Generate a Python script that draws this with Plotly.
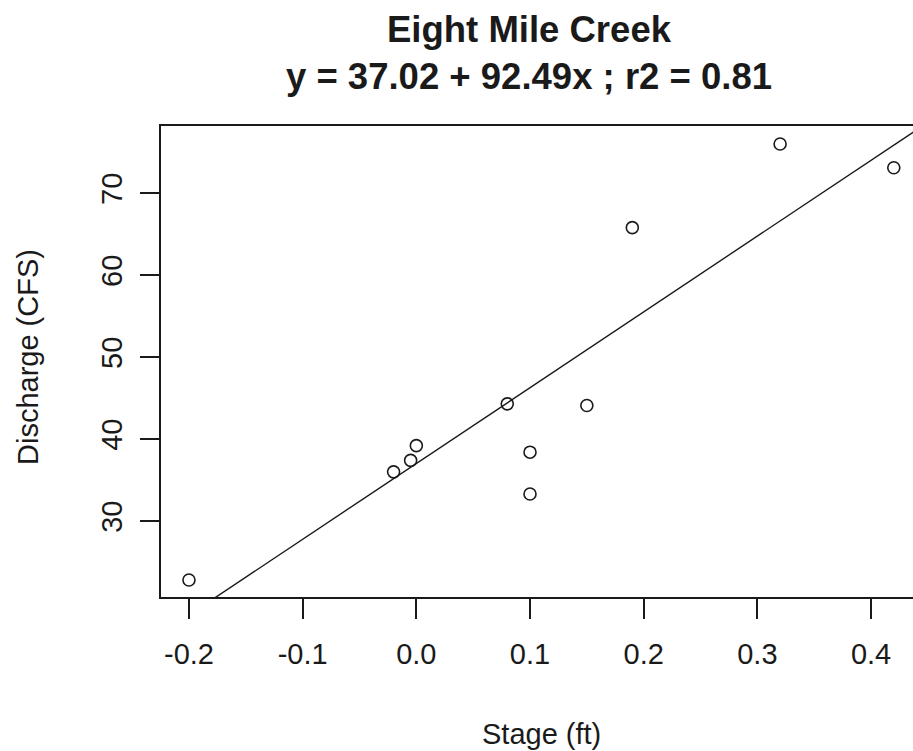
import plotly.graph_objects as go

# Data
stage_ft = [-0.20, -0.02, -0.005, 0.0, 0.08, 0.10, 0.10, 0.15, 0.19, 0.32, 0.42]
discharge_cfs = [22.8, 36.0, 37.4, 39.2, 44.3, 38.4, 33.3, 44.1, 65.8, 76.0, 73.1]

intercept = 37.02
slope = 92.49

x_tickvals = [-0.2, -0.1, 0.0, 0.1, 0.2, 0.3, 0.4]
x_ticktext = ["-0.2", "-0.1", "0.0", "0.1", "0.2", "0.3", "0.4"]
y_tickvals = [30, 40, 50, 60, 70]
y_ticktext = ["30", "40", "50", "60", "70"]

x_range = [-0.2246, 0.4369]
y_range = [20.73, 78.2]

line_x = [-0.3, 0.5]
line_y = [intercept + slope * v for v in line_x]

FONT = "Liberation Sans, Arial, sans-serif"
INK = "#1a1a1a"

fig = go.Figure()
fig.add_trace(go.Scatter(
    x=line_x, y=line_y, mode="lines",
    line=dict(color=INK, width=1.4),
    hoverinfo="skip", showlegend=False,
))
fig.add_trace(go.Scatter(
    x=stage_ft, y=discharge_cfs, mode="markers",
    marker=dict(symbol="circle-open", size=12, color=INK, line=dict(width=1.6, color=INK)),
    showlegend=False, cliponaxis=False,
))

W, H = 913, 751
L, R, T, B = 161, 0, 126, 154
pw = W - L - R
ph = H - T - B

def px_x(p):
    return (p - L) / pw

def px_y(q):
    return (H - B - q) / ph

fig.update_layout(
    width=W, height=H,
    margin=dict(l=L, r=R, t=T, b=B, pad=0),
    paper_bgcolor="white", plot_bgcolor="white",
    font=dict(family=FONT, color=INK),
    title=dict(
        text="<b>Eight Mile Creek</b><br><b>y = 37.02 + 92.49x ; r2 = 0.81</b>",
        font=dict(size=36.5, family=FONT, color=INK),
        x=529 / W, xref="container", xanchor="center",
        y=1 - 42 / H, yref="container", yanchor="top",
    ),
    xaxis=dict(
        range=x_range, tickmode="array", tickvals=x_tickvals, ticktext=x_ticktext,
        showgrid=False, zeroline=False,
        showline=True, mirror=True, linecolor=INK, linewidth=1.5,
        ticks="outside", ticklen=20, tickwidth=1.5, tickcolor=INK,
        tickfont=dict(size=29, family=FONT, color=INK),
        ticklabelstandoff=10,
    ),
    yaxis=dict(
        range=y_range, tickmode="array", tickvals=y_tickvals, ticktext=y_ticktext,
        showgrid=False, zeroline=False,
        showline=True, mirror=False, linecolor=INK, linewidth=1.5,
        ticks="outside", ticklen=19, tickwidth=1.5, tickcolor=INK,
        tickangle=-90,
        tickfont=dict(size=29, family=FONT, color=INK),
        ticklabelstandoff=7,
    ),
    annotations=[
        dict(text="Stage (ft)", x=px_x(541.5), y=px_y(734), xref="paper", yref="paper",
             showarrow=False, xanchor="center", yanchor="middle",
             font=dict(size=29, family=FONT, color=INK)),
        dict(text="Discharge (CFS)", x=px_x(28), y=px_y(357), xref="paper", yref="paper",
             showarrow=False, xanchor="center", yanchor="middle", textangle=-90,
             font=dict(size=29, family=FONT, color=INK)),
    ],
)

fig.write_html(
    "out.html",
    config={"displayModeBar": False},
    post_script="document.body.style.margin='0';document.body.style.padding='0';document.body.style.overflow='hidden';",
)
